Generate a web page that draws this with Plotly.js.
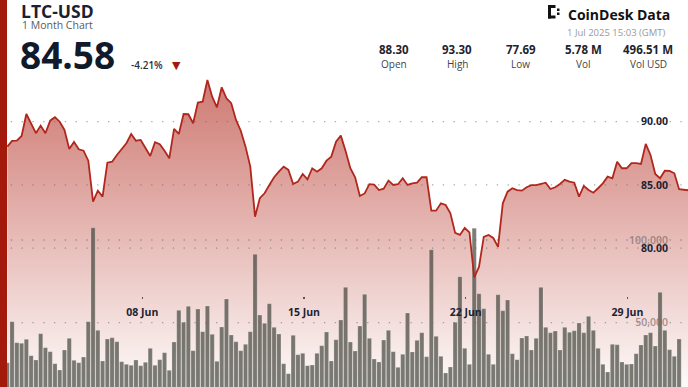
<!DOCTYPE html>
<html><head><meta charset="utf-8">
<script src="https://cdn.plot.ly/plotly-3.0.1.min.js"></script>
<style>html,body{margin:0;padding:0;background:#fff;} #chart{width:688px;height:387px;}</style>
</head><body><div id="chart"></div>
<script>
// ---- data ----
const startTime = '2025-06-02T03:45:00';
const stepMinutes = 297;
const lastTime = '2025-07-01 15:03:00';
const lastPrice = 84.58;
const prices = [88.03,88.48,88.50,88.87,90.61,89.88,89.09,89.69,89.09,90.08,
90.35,90.00,89.35,87.85,88.40,87.82,87.71,86.92,83.68,84.55,
84.08,86.76,86.84,87.37,87.85,88.30,89.03,88.50,88.56,87.90,
87.29,88.38,88.22,87.71,87.11,89.43,89.03,90.61,90.59,89.88,
91.51,91.58,93.30,91.98,91.14,92.72,91.85,91.46,90.14,89.29,
88.03,86.45,82.49,83.95,84.34,85.00,85.61,86.05,86.45,86.19,
85.08,85.26,85.87,85.45,86.32,86.05,86.32,86.92,87.24,88.42,
88.90,87.69,86.32,85.61,84.13,84.33,85.06,85.02,84.60,84.71,
85.34,85.00,85.06,85.53,85.00,85.13,85.18,85.61,85.61,82.97,
82.97,83.55,83.42,82.76,81.21,81.05,81.60,81.25,77.69,78.52,
80.89,81.05,80.81,80.10,83.55,84.47,84.74,84.60,84.55,84.82,
84.98,84.98,85.06,85.18,84.68,84.82,85.08,85.40,85.26,85.18,
84.08,84.92,84.60,84.39,84.74,85.13,85.66,85.53,86.84,86.32,
86.32,86.72,86.72,86.66,88.24,87.37,85.87,85.53,86.13,86.11,
85.92,84.66];
const volumes = [25800,50600,37900,37550,39960,30050,27450,43350,34900,32470,
25210,21400,33490,40570,27270,25800,29260,50600,107440,45400,
26840,40150,40930,38510,26420,24850,24240,27450,24000,26060,
34520,24240,27630,31860,21220,38330,57500,50240,59920,33070,
58280,44560,60100,42990,26660,47400,64330,42560,38510,33070,
36940,44560,91350,54660,49640,61490,47220,43170,25210,19170,
42380,30650,31500,24000,24430,31500,36090,44380,26840,39720,
51630,71400,38330,32890,48000,67170,40570,28050,26240,39540,
45400,32470,23030,30900,55860,32290,39360,43950,29440,94140,
41780,29690,19590,23220,50240,77810,34520,24850,107070,67530,
58460,30900,24850,66930,57260,63720,31260,27630,40750,41960,
33490,40570,71400,47220,43950,44980,33490,47220,44200,45160,
49820,43950,53870,45400,34520,24850,20190,36940,36700,26240,
24850,25030,31260,36520,42560,43950,35910,68380,45400,33680,
29690,40150];
const priceTicks = [80, 85, 90];
const priceTickText = ['80.00', '85.00', '90.00'];
const volumeTicks = [50000, 100000];
const volumeTickText = ['50,000', '100,000'];
const dateTicks = ['2025-06-08', '2025-06-15', '2025-06-22', '2025-06-29'];
const dateTickText = ['08 Jun', '15 Jun', '22 Jun', '29 Jun'];
const statValues = ['88.30', '93.30', '77.69', '5.78 M', '496.51 M'];
const statLabels = ['Open', 'High', 'Low', 'Vol', 'Vol USD'];
const xRange = ['2025-06-01 20:10:00', '2025-07-01 14:57:00'];
const priceRange = [69.03, 99.62];
const volumeRange = [11124, 245100];

// ---- build ----
const t0 = Date.parse(startTime + 'Z');
const times = volumes.map((_, k) => new Date(t0 + k * stepMinutes * 60000).toISOString().replace('T', ' ').slice(0, 19));
const lineX = times.concat([lastTime]);
const lineY = prices.concat([lastPrice]);

function gridXY(vals) {
  const x = [], y = [];
  vals.forEach(v => { x.push(xRange[0], xRange[1], null); y.push(v, v, null); });
  return {x, y};
}
const pg = gridXY(priceTicks), vg = gridXY(volumeTicks);
const W = 688, H = 387;
const px = v => v / W, py = v => 1 - v / H;
const FONT = 'Open Sans';

const traces = [
  {x: lineX, y: lineY, type: 'scatter', mode: 'lines', line: {width: 0, color: 'rgba(0,0,0,0)'},
   fill: 'tozeroy', fillgradient: {type: 'vertical', start: priceRange[0], stop: priceRange[1],
     colorscale: [[0, 'rgb(253,250,249)'], [0.5, 'rgb(224,168,163)'], [1, 'rgb(194,90,82)']]},
   xaxis: 'x', yaxis: 'y', hoverinfo: 'skip'},
  {x: times, y: volumes, type: 'bar', xaxis: 'x', yaxis: 'y2',
   marker: {color: 'rgba(66,68,60,0.7)', line: {color: 'rgba(255,255,255,0.35)', width: 0.6}}},
  {x: vg.x, y: vg.y, type: 'scatter', mode: 'lines', xaxis: 'x', yaxis: 'y2',
   line: {color: 'rgba(110,110,110,0.6)', width: 1.3, dash: '1.3px,9.5px'}, hoverinfo: 'skip'},
  {x: pg.x, y: pg.y, type: 'scatter', mode: 'lines', xaxis: 'x', yaxis: 'y3',
   line: {color: 'rgba(110,110,110,0.6)', width: 1.3, dash: '1.3px,9.5px'}, hoverinfo: 'skip'},
  {x: lineX, y: lineY, type: 'scatter', mode: 'lines', xaxis: 'x', yaxis: 'y3',
   line: {color: '#b1271d', width: 1.8}}
];

const statX = [393.5, 457, 520.5, 583, 648];
const annotations = [
  {text: 'LTC-USD', x: px(19), y: py(10.5), xanchor: 'left', yanchor: 'middle',
   font: {family: FONT, size: 17.5, weight: 'bold', color: '#1b2130'}},
  {text: '1 Month Chart', x: px(20), y: py(25), xanchor: 'left', yanchor: 'middle',
   font: {family: FONT, size: 10.5, color: '#5a5a5a'}},
  {text: '84.58', x: px(18), y: py(54.5), xanchor: 'left', yanchor: 'middle',
   font: {family: FONT, size: 37, weight: 'bold', color: '#111a2b'}},
  {text: '-4.21%', x: px(129), y: py(65), xanchor: 'left', yanchor: 'middle',
   font: {family: FONT, size: 10, weight: 600, color: '#2a2f3a'}},
  {text: '▼', x: px(170), y: py(65), xanchor: 'left', yanchor: 'middle',
   font: {family: 'DejaVu Sans', size: 11, color: '#a3190c'}},
  {text: 'CoinDesk Data', x: px(566), y: py(14.5), xanchor: 'left', yanchor: 'middle',
   font: {family: FONT, size: 14, weight: 'bold', color: '#121212'}},
  {text: '1 Jul 2025 15:03 (GMT)', x: px(668), y: py(32.5), xanchor: 'right', yanchor: 'middle',
   font: {family: FONT, size: 9.5, color: '#9a9a9a'}}
];
statValues.forEach((v, i) => {
  annotations.push({text: v, x: px(statX[i]), y: py(49.3), xanchor: 'center', yanchor: 'middle',
    font: {family: FONT, size: 11.5, weight: 'bold', color: '#1f2330'}});
  annotations.push({text: statLabels[i], x: px(statX[i]), y: py(64.5), xanchor: 'center', yanchor: 'middle',
    font: {family: FONT, size: 10, color: '#444'}});
});
annotations.forEach(a => { a.xref = 'paper'; a.yref = 'paper'; a.showarrow = false; });

const shapes = [
  {type: 'rect', xref: 'paper', yref: 'paper', x0: 0, x1: px(7), y0: 0, y1: 1, fillcolor: '#a3190c', line: {width: 0}, layer: 'above'},
  // logo mark
  {type: 'rect', xref: 'paper', yref: 'paper', x0: px(548), x1: px(551), y0: py(18.5), y1: py(5), fillcolor: '#121212', line: {width: 0}},
  {type: 'rect', xref: 'paper', yref: 'paper', x0: px(548), x1: px(555.5), y0: py(8), y1: py(5), fillcolor: '#121212', line: {width: 0}},
  {type: 'rect', xref: 'paper', yref: 'paper', x0: px(548), x1: px(555.5), y0: py(18.5), y1: py(15.5), fillcolor: '#121212', line: {width: 0}},
  {type: 'rect', xref: 'paper', yref: 'paper', x0: px(557), x1: px(559.5), y0: py(11), y1: py(8.5), fillcolor: '#121212', line: {width: 0}},
  {type: 'rect', xref: 'paper', yref: 'paper', x0: px(557), x1: px(559.5), y0: py(15), y1: py(12.5), fillcolor: '#121212', line: {width: 0}}
];

const layout = {
  width: W, height: H, margin: {l: 0, r: 0, t: 0, b: 0},
  paper_bgcolor: '#fff', plot_bgcolor: '#fff', showlegend: false, bargap: 0.12,
  xaxis: {type: 'date', range: xRange, anchor: 'free', position: (H - 299) / H,
    tickvals: dateTicks, ticktext: dateTickText, ticks: 'inside', ticklen: 2, tickwidth: 1.5, tickcolor: '#555',
    ticklabelstandoff: 5, showgrid: false, zeroline: false, showline: false,
    tickfont: {family: FONT, size: 10.5, weight: 'bold', color: '#1c2333'}},
  yaxis: {range: priceRange, side: 'right', tickvals: priceTicks, ticktext: priceTickText,
    ticklabelposition: 'inside', ticklabelstandoff: 17, ticks: '', showgrid: false, zeroline: false, showline: false,
    tickfont: {family: FONT, size: 10.5, weight: 'bold', color: '#1c2333'}},
  yaxis2: {overlaying: 'y', range: volumeRange, side: 'right', tickvals: volumeTicks, ticktext: volumeTickText,
    ticklabelposition: 'inside', ticklabelstandoff: 17, ticks: '', showgrid: false, zeroline: false, showline: false,
    tickfont: {family: FONT, size: 10.5, weight: 600, color: 'rgba(120,105,105,0.7)'}},
  yaxis3: {overlaying: 'y', range: priceRange, visible: false},
  annotations, shapes
};
Plotly.newPlot('chart', traces, layout, {staticPlot: true, displayModeBar: false});
</script></body></html>
